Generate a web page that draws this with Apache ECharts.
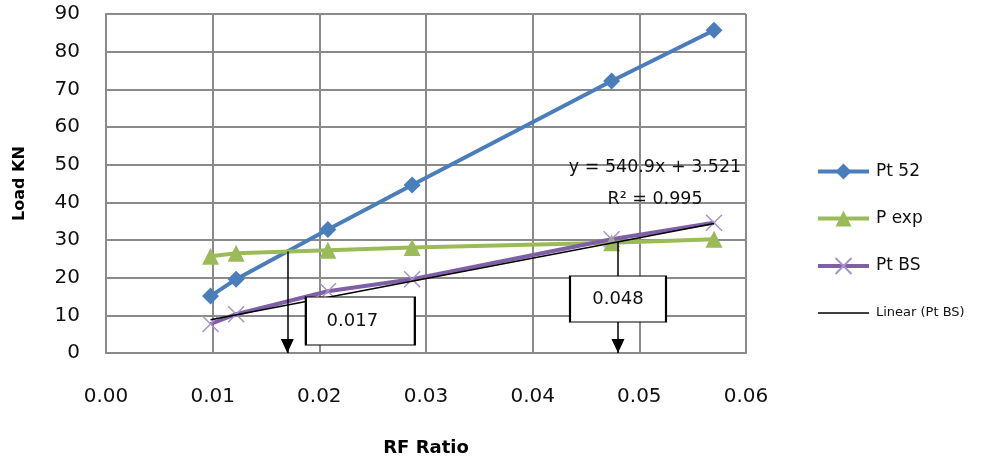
<!DOCTYPE html>
<html>
<head>
<meta charset="utf-8">
<script src="https://cdn.jsdelivr.net/npm/echarts@6/dist/echarts.min.js"></script>
<style>
  html, body { margin: 0; padding: 0; background: #fff; }
  #chart { width: 990px; height: 462px; }
</style>
</head>
<body>
<div id="chart"></div>
<script>
// RF ratio (x) for each test point
var rfRatio = [0.0098, 0.0122, 0.0208, 0.0287, 0.0474, 0.0570];
// Load in kN
var pt52 = [15.1, 19.6, 32.8, 44.6, 72.2, 85.7];
var pExp = [25.7, 26.5, 27.3, 28.0, 29.3, 30.2];
var ptBS = [7.7, 10.3, 16.4, 19.6, 30.2, 34.6];
// Linear trend of Pt BS: y = slope * x + intercept
var trendSlope = [540.9];
var trendIntercept = [3.521];
var trendR2 = [0.995];
// Marked intersection ratios
var crossRatios = [0.017, 0.048];
// Axis ticks
var xTicks = [0, 0.01, 0.02, 0.03, 0.04, 0.05, 0.06];
var yTicks = [0, 10, 20, 30, 40, 50, 60, 70, 80, 90];

var FONT = 'DejaVu Sans';

function pairs(xs, ys) {
  return xs.map(function (x, i) { return [x, ys[i]]; });
}
function trendAt(x) { return trendSlope[0] * x + trendIntercept[0]; }
function interp(xs, ys, x) {
  for (var i = 0; i < xs.length - 1; i++) {
    if (x >= xs[i] && x <= xs[i + 1]) {
      return ys[i] + (ys[i + 1] - ys[i]) * (x - xs[i]) / (xs[i + 1] - xs[i]);
    }
  }
  return ys[ys.length - 1];
}

var xMin = Math.min.apply(null, rfRatio);
var xMax = Math.max.apply(null, rfRatio);
var trendData = [[xMin, trendAt(xMin)], [xMax, trendAt(xMax)]];

// arrow start points: P exp crossing Pt 52, and trend line crossing P exp
var arrowTops = [
  [crossRatios[0], interp(rfRatio, pExp, crossRatios[0])],
  [crossRatios[1], trendAt(crossRatios[1])]
];

var xMark = 'path://M0,0L10,10M10,0L0,10';
// arrow head whose tip sits at the symbol centre (upper half left empty)
var arrowHead = 'path://M7,0L7,0.01Z M7,14L14,28L0,28Z';
var gridColor = '#8a8a8a';

var chart = echarts.init(document.getElementById('chart'), null, { renderer: 'canvas' });

chart.setOption({
  animation: false,
  backgroundColor: '#fff',
  textStyle: { fontFamily: FONT },
  grid: { left: 106, right: 244, top: 14, bottom: 108 },
  xAxis: {
    type: 'value',
    min: xTicks[0],
    max: xTicks[xTicks.length - 1],
    interval: xTicks[1] - xTicks[0],
    name: 'RF Ratio',
    nameLocation: 'middle',
    nameGap: 86,
    nameTextStyle: { fontFamily: FONT, fontWeight: 'bold', fontSize: 18, color: '#000' },
    axisLine: { lineStyle: { color: gridColor, width: 2 } },
    axisTick: { show: false },
    axisLabel: {
      margin: 34, fontSize: 20, color: '#111', fontFamily: FONT,
      formatter: function (v) { return v.toFixed(2); }
    },
    splitLine: { show: true, lineStyle: { color: gridColor, width: 2 } }
  },
  yAxis: {
    type: 'value',
    min: yTicks[0],
    max: yTicks[yTicks.length - 1],
    interval: yTicks[1] - yTicks[0],
    name: 'Load KN',
    nameLocation: 'middle',
    nameRotate: 90,
    nameGap: 78,
    nameTextStyle: { fontFamily: FONT, fontWeight: 'bold', fontSize: 16, color: '#000' },
    axisLine: { show: true, lineStyle: { color: gridColor, width: 2 } },
    axisTick: { show: false },
    axisLabel: { margin: 26, fontSize: 20, color: '#111', fontFamily: FONT },
    splitLine: { show: true, lineStyle: { color: gridColor, width: 2 } }
  },
  legend: {
    orient: 'vertical',
    left: 811,
    top: 158,
    itemWidth: 51,
    itemHeight: 20,
    itemGap: 30,
    textStyle: { fontFamily: FONT, fontSize: 17, color: '#111', padding: [0, 0, 0, 2] },
    data: [
      { name: 'Pt 52', lineStyle: { width: 4 } },
      { name: 'P exp', lineStyle: { width: 4 } },
      { name: 'Pt BS', lineStyle: { width: 4 } },
      { name: 'Linear (Pt BS)', textStyle: { fontSize: 13 }, lineStyle: { width: 1.5 },
        itemStyle: { color: 'rgba(0,0,0,0)', borderColor: 'rgba(0,0,0,0)', borderWidth: 0 } }
    ]
  },
  series: [
    {
      name: 'Pt 52',
      type: 'line',
      data: pairs(rfRatio, pt52),
      symbol: 'diamond',
      symbolSize: 17,
      lineStyle: { color: '#4a7ebb', width: 4 },
      itemStyle: { color: '#4a7ebb' },
      z: 3
    },
    {
      name: 'P exp',
      type: 'line',
      data: pairs(rfRatio, pExp),
      symbol: 'triangle',
      symbolSize: 17,
      lineStyle: { color: '#9bbb59', width: 4 },
      itemStyle: { color: '#9bbb59' },
      z: 3
    },
    {
      name: 'Pt BS',
      type: 'line',
      data: pairs(rfRatio, ptBS),
      symbol: xMark,
      symbolSize: 16,
      lineStyle: { color: '#7f60a6', width: 4 },
      itemStyle: { color: 'rgba(0,0,0,0)', borderColor: '#a793cb', borderWidth: 1.5 },
      z: 3
    },
    {
      name: 'Linear (Pt BS)',
      type: 'line',
      data: trendData,
      symbol: 'none',
      lineStyle: { color: '#000', width: 1.5 },
      itemStyle: { color: '#000' },
      z: 4,
      markPoint: {
        symbol: 'circle',
        symbolSize: 0,
        silent: true,
        label: {
          show: true,
          formatter: 'y = ' + trendSlope[0] + 'x + ' + trendIntercept[0] + '\nR² = ' + trendR2[0],
          fontFamily: FONT,
          fontSize: 17.5,
          lineHeight: 32,
          color: '#111',
          align: 'center',
          offset: [-59, -40]
        },
        data: [{ coord: trendData[1] }]
      }
    },
    {
      // intersection arrows with value boxes
      name: 'arrows',
      type: 'line',
      data: [],
      z: 6,
      markLine: {
        silent: true,
        symbol: ['none', arrowHead],
        symbolSize: [13, 28],
        label: { show: false },
        lineStyle: { color: '#000', width: 1.5, type: 'solid' },
        data: arrowTops.map(function (p) {
          return [{ coord: p }, { coord: [p[0], 0] }];
        })
      },
      markPoint: {
        silent: true,
        symbol: 'rect',
        itemStyle: { color: '#fff', borderColor: '#000', borderWidth: 1.5 },
        label: {
          show: true, color: '#111', fontFamily: FONT, fontSize: 18,
          formatter: function (p) { return p.data.text; }
        },
        data: [
          { coord: [crossRatios[0], 0], text: crossRatios[0].toFixed(3),
            symbolSize: [109, 48], symbolOffset: [73, -32],
            label: { offset: [-8, 0] } },
          { coord: [crossRatios[1], 0], text: crossRatios[1].toFixed(3),
            symbolSize: [96, 46], symbolOffset: [0, -54],
            label: { offset: [0, 0] } }
        ]
      }
    }
  ]
});
</script>
</body>
</html>
